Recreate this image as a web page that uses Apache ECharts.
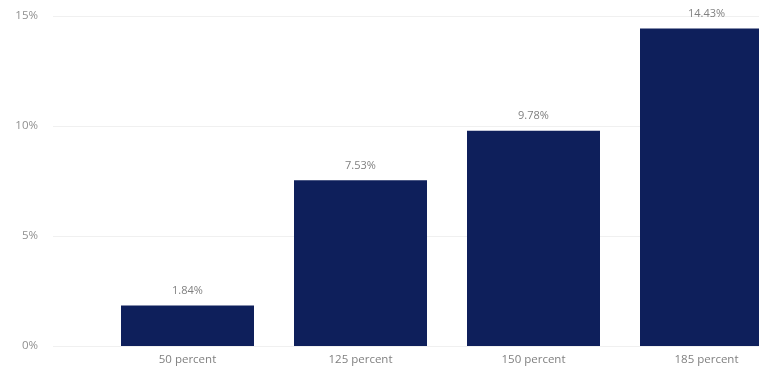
<!DOCTYPE html>
<html>
<head>
<meta charset="utf-8">
<script src="https://cdn.jsdelivr.net/npm/echarts@6/dist/echarts.min.js"></script>
<style>
html,body{margin:0;padding:0;background:#fff;}
#c{width:759px;height:373px;}
</style>
</head>
<body>
<div id="c"></div>
<script>
var categories = ['50 percent', '125 percent', '150 percent', '185 percent'];
var values = [1.84, 7.53, 9.78, 14.43];
var yTicks = [0, 5, 10, 15];

var chart = echarts.init(document.getElementById('c'), null, {renderer: 'canvas'});
var font = '"Open Sans", "Noto Sans", sans-serif';
chart.setOption({
  animation: false,
  backgroundColor: '#ffffff',
  grid: [
    {left: 53, right: 0, top: 16, bottom: 27, outerBoundsMode: 'none', containLabel: false},
    {left: 101, width: 692, top: 16, bottom: 27, outerBoundsMode: 'none', containLabel: false}
  ],
  xAxis: [
    {gridIndex: 0, type: 'value', show: false, min: 0, max: 1},
    {
      gridIndex: 1, type: 'category', data: categories, boundaryGap: true,
      axisLine: {show: false}, axisTick: {show: false},
      axisLabel: {color: '#808080', fontSize: 11.5, fontFamily: font, margin: 8}
    }
  ],
  yAxis: [
    {
      gridIndex: 0, type: 'value', min: yTicks[0], max: yTicks[yTicks.length - 1], interval: 5,
      axisLine: {show: false}, axisTick: {show: false},
      axisLabel: {color: '#909090', fontSize: 11.5, fontFamily: font, margin: 15,
        formatter: function (v) { return v + '%'; }},
      splitLine: {show: true, lineStyle: {color: '#f0f0f0', width: 1}}
    },
    {
      gridIndex: 1, type: 'value', min: yTicks[0], max: yTicks[yTicks.length - 1], interval: 5,
      show: false, splitLine: {show: false}
    }
  ],
  series: [{
    type: 'bar',
    xAxisIndex: 1, yAxisIndex: 1,
    data: values,
    barWidth: 133,
    itemStyle: {color: '#0e1f5b'},
    label: {
      show: true, position: 'top', distance: 9,
      color: '#808080', fontSize: 11, fontFamily: font,
      formatter: function (p) { return p.value.toFixed(2) + '%'; }
    }
  }]
});
</script>
</body>
</html>
